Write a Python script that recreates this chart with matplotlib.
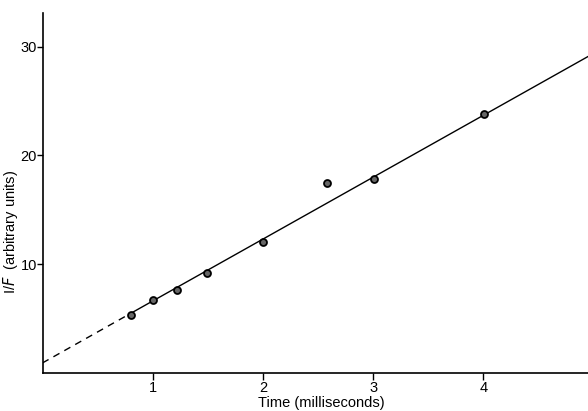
import matplotlib
matplotlib.use("Agg")
import matplotlib.pyplot as plt

# measured points
time_ms = [0.8, 1.0, 1.22, 1.49, 2.0, 2.58, 3.01, 4.01]
inv_f = [5.3, 6.7, 7.65, 9.2, 12.05, 17.5, 17.8, 23.85]

# fitted line (dashed extrapolation + solid part)
dash_x = [0.0, 0.8]
dash_y = [0.9, 5.46]
solid_x = [0.8, 4.95]
solid_y = [5.46, 29.1]

x_ticks = [1, 2, 3, 4]
y_ticks = [10, 20, 30]

plt.rcParams['font.family'] = ['Liberation Sans', 'DejaVu Sans']

fig = plt.figure(figsize=(5.88, 4.11), dpi=100)
ax = fig.add_axes([0.0723, 0.0932, 0.9277, 0.875])

ax.plot(dash_x, dash_y, color='black', lw=1.0, ls=(0, (5, 4)))
ax.plot(solid_x, solid_y, color='black', lw=1.0)
ax.plot(time_ms, inv_f, 'o', ms=5, mfc='#666666', mec='black', mew=1.3)

ax.set_xlim(0, 4.95)
ax.set_ylim(0, 33.1)
ax.set_xticks(x_ticks)
ax.set_yticks(y_ticks)
ax.set_xticklabels([str(t) for t in x_ticks])
ax.set_yticklabels([str(t) for t in y_ticks])

for side in ['top', 'right']:
    ax.spines[side].set_visible(False)
for side in ['left', 'bottom']:
    ax.spines[side].set_linewidth(1.2)

ax.tick_params(axis='both', direction='out', length=5, width=1.0,
               labelsize=10.5, pad=1)
ax.tick_params(axis='y', length=4, pad=0)

ax.set_xlabel('Time (milliseconds)', fontsize=10.5)
ax.set_ylabel('I/$F$  (arbitrary units)', fontsize=10.5)
ax.xaxis.set_label_coords(0.512, -0.066)
ax.yaxis.set_label_coords(-0.041, 0.39)

fig.savefig('out.png', dpi=100)
